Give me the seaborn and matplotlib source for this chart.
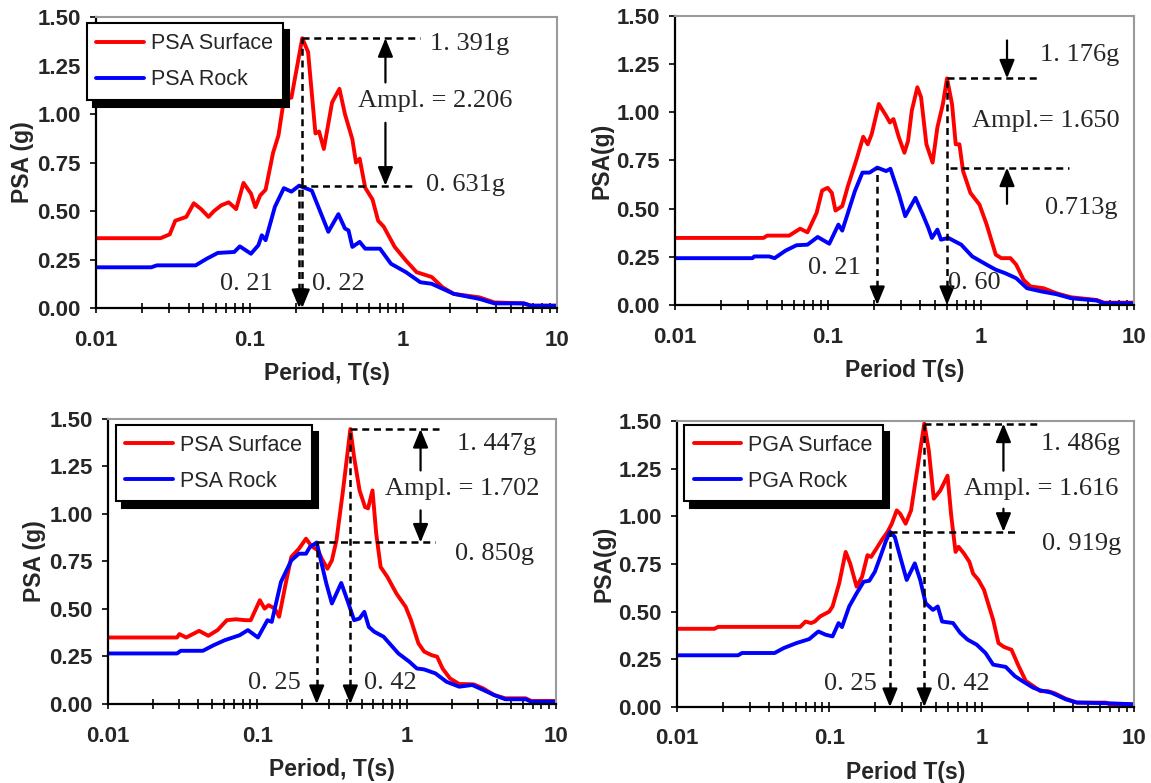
import numpy as np
import pandas as pd
import matplotlib
matplotlib.use('Agg')
import matplotlib.pyplot as plt
import seaborn as sns
from matplotlib.ticker import LogLocator, NullFormatter

# ---- panel a (top left) ----
t_a_surf = [0.01, 0.0263, 0.0302, 0.0328, 0.0387, 0.0433, 0.0483, 0.054, 0.0586, 0.0655, 0.0731, 0.0817,
            0.0912, 0.102, 0.109, 0.117, 0.127, 0.142, 0.154, 0.167, 0.187, 0.22, 0.240, 0.268, 0.283,
            0.304, 0.344, 0.384, 0.417, 0.466, 0.492, 0.52, 0.565, 0.63, 0.686, 0.745, 0.879, 1.04,
            1.22, 1.53, 1.80, 2.13, 3.13, 3.91, 6.08, 6.79, 10]
psa_a_surf = [0.36, 0.36, 0.38, 0.45, 0.47, 0.54, 0.51, 0.47, 0.50, 0.53, 0.545, 0.51,
              0.645, 0.59, 0.52, 0.58, 0.61, 0.80, 0.89, 1.075, 1.085, 1.391, 1.32, 0.90, 0.91,
              0.82, 1.06, 1.13, 1.00, 0.87, 0.75, 0.77, 0.62, 0.56, 0.45, 0.42, 0.315, 0.245,
              0.185, 0.16, 0.107, 0.073, 0.055, 0.029, 0.024, 0.012, 0.012]
t_a_rock = [0.01, 0.0229, 0.0249, 0.0445, 0.0525, 0.062, 0.0794, 0.0863, 0.102, 0.114, 0.120, 0.127,
            0.146, 0.167, 0.187, 0.21, 0.254, 0.291, 0.325, 0.378, 0.417, 0.44, 0.466, 0.52, 0.565,
            0.705, 0.832, 1.04, 1.29, 1.53, 2.13, 3.13, 3.91, 6.08, 6.79, 10]
psa_a_rock = [0.21, 0.21, 0.22, 0.22, 0.254, 0.284, 0.289, 0.318, 0.28, 0.324, 0.375, 0.35,
              0.522, 0.618, 0.60, 0.631, 0.605, 0.488, 0.393, 0.484, 0.41, 0.40, 0.315, 0.341, 0.306,
              0.306, 0.228, 0.185, 0.133, 0.125, 0.073, 0.047, 0.024, 0.024, 0.012, 0.012]

# ---- panel b (top right) ----
t_b_surf = [0.01, 0.0379, 0.0401, 0.0558, 0.0658, 0.0735, 0.0843, 0.0916, 0.0995, 0.106, 0.112, 0.124,
            0.135, 0.155, 0.170, 0.182, 0.193, 0.215, 0.240, 0.254, 0.268, 0.291, 0.316, 0.334, 0.353,
            0.384, 0.406, 0.44, 0.483, 0.519, 0.564, 0.60, 0.647, 0.684, 0.723, 0.764, 0.853, 0.978,
            1.09, 1.25, 1.36, 1.56, 1.70, 1.90, 2.11, 2.56, 3.11, 3.88, 5.70, 6.37, 10]
psa_b_surf = [0.348, 0.348, 0.36, 0.36, 0.396, 0.377, 0.478, 0.594, 0.608, 0.582, 0.49, 0.513,
              0.617, 0.765, 0.873, 0.834, 0.886, 1.043, 0.982, 0.947, 0.965, 0.869, 0.79, 0.852, 1.008,
              1.13, 1.078, 0.834, 0.739, 0.921, 1.043, 1.176, 1.043, 0.834, 0.834, 0.695, 0.582, 0.521,
              0.417, 0.261, 0.243, 0.243, 0.209, 0.13, 0.096, 0.087, 0.061, 0.04, 0.026, 0.012, 0.012]
t_b_rock = [0.01, 0.0321, 0.033, 0.0412, 0.0448, 0.0528, 0.0623, 0.0735, 0.0857, 0.102, 0.117, 0.124,
            0.150, 0.168, 0.187, 0.21, 0.240, 0.256, 0.291, 0.32, 0.373, 0.417, 0.453, 0.478, 0.519,
            0.548, 0.612, 0.743, 0.877, 1.09, 1.25, 1.44, 1.70, 2.0, 2.49, 3.11, 3.88, 5.70, 6.37, 10]
psa_b_rock = [0.243, 0.243, 0.252, 0.252, 0.243, 0.282, 0.31, 0.313, 0.353, 0.318, 0.417, 0.386,
              0.591, 0.687, 0.687, 0.713, 0.695, 0.707, 0.574, 0.461, 0.556, 0.469, 0.40, 0.348, 0.391,
              0.339, 0.348, 0.313, 0.252, 0.209, 0.183, 0.165, 0.139, 0.087, 0.07, 0.056, 0.035, 0.023,
              0.009, 0.009]

# ---- panel c (bottom left) ----
t_c_surf = [0.01, 0.029, 0.0301, 0.0334, 0.0408, 0.047, 0.0542, 0.0625, 0.072, 0.083, 0.0904, 0.104,
            0.112, 0.119, 0.131, 0.140, 0.155, 0.169, 0.190, 0.212, 0.231, 0.255, 0.27, 0.295, 0.316,
            0.339, 0.375, 0.42, 0.445, 0.484, 0.527, 0.552, 0.591, 0.626, 0.67, 0.743, 0.855, 0.986,
            1.07, 1.20, 1.31, 1.47, 1.60, 1.74, 1.95, 2.25, 2.45, 2.82, 3.26, 3.86, 4.58, 6.27, 6.83, 10]
psa_c_surf = [0.35, 0.35, 0.368, 0.35, 0.385, 0.359, 0.389, 0.441, 0.446, 0.441, 0.441, 0.546,
              0.502, 0.52, 0.502, 0.459, 0.634, 0.774, 0.817, 0.87, 0.83, 0.809, 0.765, 0.712, 0.756,
              0.861, 1.124, 1.447, 1.299, 1.124, 1.036, 1.03, 1.124, 0.896, 0.721, 0.669, 0.581, 0.511,
              0.441, 0.319, 0.276, 0.257, 0.249, 0.187, 0.135, 0.105, 0.105, 0.103, 0.082, 0.047, 0.03,
              0.03, 0.016, 0.016]
t_c_rock = [0.01, 0.029, 0.0307, 0.0432, 0.0512, 0.0607, 0.0762, 0.0865, 0.101, 0.117, 0.125, 0.144,
            0.169, 0.190, 0.212, 0.225, 0.25, 0.26, 0.29, 0.316, 0.365, 0.408, 0.445, 0.484, 0.521,
            0.558, 0.608, 0.701, 0.881, 1.045, 1.17, 1.31, 1.56, 1.85, 2.25, 2.75, 3.26, 3.86, 4.58,
            6.27, 6.83, 10]
psa_c_rock = [0.266, 0.266, 0.28, 0.28, 0.31, 0.336, 0.362, 0.389, 0.35, 0.441, 0.432, 0.642,
              0.756, 0.791, 0.791, 0.826, 0.850, 0.791, 0.634, 0.529, 0.637, 0.529, 0.441, 0.45, 0.485,
              0.406, 0.38, 0.354, 0.266, 0.222, 0.187, 0.182, 0.161, 0.117, 0.091, 0.10, 0.074, 0.047,
              0.025, 0.025, 0.012, 0.012]

# ---- panel d (bottom right) ----
t_d_surf = [0.01, 0.0176, 0.0186, 0.0643, 0.0698, 0.0759, 0.0802, 0.0871, 0.0998, 0.105, 0.116, 0.128,
            0.137, 0.151, 0.164, 0.178, 0.188, 0.204, 0.222, 0.241, 0.257, 0.277, 0.292, 0.317, 0.344,
            0.374, 0.42, 0.45, 0.485, 0.535, 0.597, 0.631, 0.674, 0.705, 0.765, 0.831, 0.878, 0.953,
            1.036, 1.19, 1.29, 1.40, 1.57, 1.75, 1.95, 2.18, 2.43, 2.72, 3.03, 3.57, 4.22, 6.55, 6.92, 10]
psa_d_surf = [0.41, 0.41, 0.42, 0.42, 0.448, 0.44, 0.448, 0.475, 0.50, 0.527, 0.648, 0.813,
              0.753, 0.631, 0.683, 0.796, 0.787, 0.831, 0.878, 0.918, 0.961, 1.031, 1.013, 0.961, 1.031,
              1.222, 1.486, 1.344, 1.092, 1.135, 1.213, 1.005, 0.813, 0.84, 0.805, 0.761, 0.70, 0.666,
              0.614, 0.457, 0.335, 0.315, 0.30, 0.214, 0.136, 0.11, 0.083, 0.083, 0.071, 0.043, 0.023,
              0.023, 0.014, 0.014]
t_d_rock = [0.01, 0.0252, 0.0267, 0.0437, 0.0502, 0.0608, 0.0738, 0.0847, 0.0945, 0.105, 0.115, 0.121,
            0.135, 0.151, 0.168, 0.183, 0.199, 0.216, 0.234, 0.25, 0.269, 0.292, 0.322, 0.364, 0.395,
            0.429, 0.479, 0.515, 0.55, 0.649, 0.724, 0.809, 0.927, 1.06, 1.19, 1.44, 1.65, 1.85, 2.18,
            2.43, 2.87, 3.57, 4.22, 6.55, 10]
psa_d_rock = [0.271, 0.271, 0.283, 0.283, 0.309, 0.335, 0.356, 0.396, 0.379, 0.37, 0.44, 0.419,
              0.527, 0.596, 0.657, 0.662, 0.709, 0.787, 0.866, 0.919, 0.892, 0.787, 0.666, 0.753, 0.666,
              0.544, 0.509, 0.527, 0.448, 0.44, 0.388, 0.353, 0.327, 0.283, 0.222, 0.21, 0.162, 0.136,
              0.101, 0.087, 0.075, 0.04, 0.023, 0.02, 0.014]

# annotation values
peak_t_rock = [0.21, 0.21, 0.25, 0.25]
peak_t_surf = [0.22, 0.60, 0.42, 0.42]
peak_rock = [0.631, 0.713, 0.850, 0.919]
peak_surf = [1.391, 1.176, 1.447, 1.486]
ampl = [2.206, 1.650, 1.702, 1.616]

sns.set_style('ticks')
plt.rcParams['font.family'] = ['Liberation Sans', 'DejaVu Sans']
SERIF = 'Liberation Serif'

fig = plt.figure(figsize=(11.51, 7.83), dpi=100)
rects = [[0.0834, 0.6066, 0.4005, 0.3716],
         [0.5864, 0.6105, 0.3988, 0.3691],
         [0.0938, 0.1009, 0.3892, 0.3640],
         [0.5882, 0.0971, 0.3970, 0.3653]]

panels = [(t_a_surf, psa_a_surf, t_a_rock, psa_a_rock),
          (t_b_surf, psa_b_surf, t_b_rock, psa_b_rock),
          (t_c_surf, psa_c_surf, t_c_rock, psa_c_rock),
          (t_d_surf, psa_d_surf, t_d_rock, psa_d_rock)]
ylabels = ['PSA (g)', 'PSA(g)', 'PSA (g)', 'PSA(g)']
xlabels = ['Period, T(s)', 'Period T(s)', 'Period, T(s)', 'Period T(s)']
legends = [('PSA Surface', 'PSA Rock'), None, ('PSA Surface', 'PSA Rock'), ('PGA Surface', 'PGA Rock')]
leg_anchor = [(-0.02, 0.978), None, (0.017, 0.979), (0.015, 0.986)]

# per panel layout of the annotation marks (positions only)
layout = [
    dict(s_end=1.29, r_start=None, r_end=1.19, s_txt=(1.49, 1.36), r_txt=(1.41, 0.635),
         arr_x=0.765, up_from=1.163, dn_from=0.955, amp_txt=(0.506, 1.067), amp_fmt='Ampl. = {:.3f}',
         r_fmt='0. {:03d}g', tl_y=0.125, tr_right=0.142, ts_left=0.254),
    dict(s_end=2.43, r_start=0.63, r_end=3.77, s_txt=(2.43, 1.295), r_txt=(2.64, 0.504),
         arr_x=1.48, up_from=1.373, dn_from=0.525, amp_txt=(0.877, 0.956), amp_fmt='Ampl.= {:.3f}',
         r_fmt='0.{:03d}g', tl_y=0.191, tr_right=0.163, ts_left=0.612, ts_y=0.113),
    dict(s_end=1.65, r_start=None, r_end=1.56, s_txt=(2.19, 1.369), r_txt=(2.12, 0.791),
         arr_x=1.24, up_from=1.229, dn_from=1.019, amp_txt=(0.72, 1.133), amp_fmt='Ampl. = {:.3f}',
         r_fmt='0. {:03d}g', tl_y=0.109, tr_right=0.195, ts_left=0.521),
    dict(s_end=2.3, r_start=None, r_end=1.75, s_txt=(2.46, 1.378), r_txt=(2.5, 0.857),
         arr_x=1.39, up_from=1.239, dn_from=1.04, amp_txt=(0.765, 1.144), amp_fmt='Ampl. = {:.3f}',
         r_fmt='0. {:03d}g', tl_y=0.118, tr_right=0.204, ts_left=0.507),
]

head = '-|>,head_length=0.8,head_width=0.33'
dash = dict(color='black', lw=1.8, dashes=(2.8, 1.9))
TXT = 19
arrow_kw = dict(arrowstyle=head, color='black', lw=1.6, mutation_scale=14, shrinkA=0, shrinkB=0)

for i, (ts, ps, tr, pr) in enumerate(panels):
    ax = fig.add_axes(rects[i])
    lab = legends[i]
    df_s = pd.DataFrame({'T': ts, 'PSA': ps})
    df_r = pd.DataFrame({'T': tr, 'PSA': pr})
    sns.lineplot(data=df_s, x='T', y='PSA', ax=ax, color='#ff0000', lw=2.8,
                 label=lab[0] if lab else None, legend=False, estimator=None, sort=False)
    sns.lineplot(data=df_r, x='T', y='PSA', ax=ax, color='#0000ff', lw=2.8,
                 label=lab[1] if lab else None, legend=False, estimator=None, sort=False)

    ax.set_xscale('log')
    ax.set_xlim(0.01, 10)
    ax.set_ylim(0, 1.5)
    ax.set_xticks([0.01, 0.1, 1, 10])
    ax.set_xticklabels(['0.01', '0.1', '1', '10'])
    ax.xaxis.set_minor_locator(LogLocator(base=10, subs=np.arange(2, 10)))
    ax.xaxis.set_minor_formatter(NullFormatter())
    ax.set_yticks(np.arange(0, 1.51, 0.25))
    ax.set_yticklabels(['%.2f' % v for v in np.arange(0, 1.51, 0.25)])
    ax.tick_params(axis='x', which='both', direction='inout', length=7, width=1.4, labelsize=16, pad=12)
    ax.tick_params(axis='y', direction='out', length=4, width=1.4, labelsize=16, pad=7)
    for tl in ax.get_xticklabels() + ax.get_yticklabels():
        tl.set_fontweight('bold')
    ax.set_xlabel(xlabels[i], fontsize=16.5, fontweight='bold', labelpad=8)
    ax.set_ylabel(ylabels[i], fontsize=16.5, fontweight='bold', labelpad=2)
    for side in ['left', 'bottom']:
        ax.spines[side].set_color('black')
        ax.spines[side].set_linewidth(1.6)
    for side in ['top', 'right']:
        ax.spines[side].set_visible(True)
        ax.spines[side].set_color('#9a9a9a')
        ax.spines[side].set_linewidth(1.5)

    if lab:
        ax.legend(loc='upper left', bbox_to_anchor=leg_anchor[i], borderaxespad=0, fontsize=15.5,
                  frameon=True, fancybox=False, framealpha=1, edgecolor='black', borderpad=0.45,
                  handlelength=2.2, handletextpad=0.35, labelspacing=0.7,
                  shadow={'ox': 4.5, 'oy': -5, 'color': 'black', 'alpha': 1})
        ax.get_legend().get_frame().set_linewidth(1.5)
        ax.get_legend().set_zorder(10)

    L = layout[i]
    tsp, trp = peak_t_surf[i], peak_t_rock[i]
    vs, vr = peak_surf[i], peak_rock[i]
    # horizontal dashed guides
    ax.plot([tsp, L['s_end']], [vs, vs], **dash)
    r0 = L['r_start'] if L['r_start'] else trp
    ax.plot([r0, L['r_end']], [vr, vr], **dash)
    # vertical dashed arrows to the periods
    for tp, v in [(trp, vr), (tsp, vs)]:
        ax.plot([tp, tp], [0.03, v], **dash)
        ax.annotate('', xy=(tp, 0), xytext=(0, 10), textcoords='offset points',
                    xycoords='data', arrowprops=arrow_kw)
    # amplification arrows
    ax.annotate('', xy=(L['arr_x'], vs), xytext=(L['arr_x'], L['up_from']), arrowprops=arrow_kw)
    ax.annotate('', xy=(L['arr_x'], vr), xytext=(L['arr_x'], L['dn_from']), arrowprops=arrow_kw)
    # texts
    ax.text(L['s_txt'][0], L['s_txt'][1], '1. {:03d}g'.format(int(round((vs - 1) * 1000))),
            family=SERIF, fontsize=TXT, ha='left', va='center')
    ax.text(L['r_txt'][0], L['r_txt'][1], L['r_fmt'].format(int(round(vr * 1000))),
            family=SERIF, fontsize=TXT, ha='left', va='center')
    ax.text(L['amp_txt'][0], L['amp_txt'][1], L['amp_fmt'].format(ampl[i]),
            family=SERIF, fontsize=TXT, ha='left', va='center')
    ax.text(L['tr_right'], L['tl_y'], '0. {:02d}'.format(int(round(trp * 100))),
            family=SERIF, fontsize=TXT, ha='right', va='center')
    ax.text(L['ts_left'], L.get('ts_y', L['tl_y']), '0. {:02d}'.format(int(round(tsp * 100))),
            family=SERIF, fontsize=TXT, ha='left', va='center')

fig.savefig('out.png', dpi=100)
